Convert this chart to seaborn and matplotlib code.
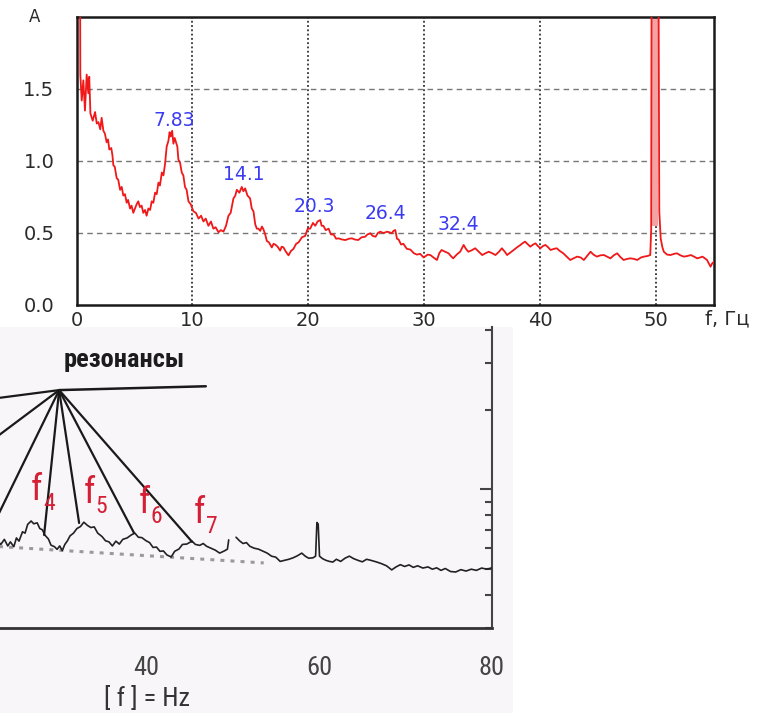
import matplotlib
matplotlib.use("Agg")
import matplotlib.pyplot as plt
import seaborn as sns
import numpy as np
from matplotlib.patches import Rectangle
from matplotlib.ticker import MultipleLocator, LogLocator, NullFormatter

# ---------------- top panel data (Schumann spectrum) ----------------
top_freq = [0.30, 0.33, 0.45, 0.59, 0.73, 0.88, 1.02, 1.10, 1.20, 1.40, 1.60, 1.75, 1.89, 2.05, 2.17,
            2.32, 2.45, 2.60, 2.72, 2.83, 3.00, 3.10, 3.18, 3.30, 3.47, 3.60, 3.76, 3.90, 4.04, 4.18,
            4.33, 4.45, 4.62, 4.75, 4.90, 5.05, 5.19, 5.33, 5.47, 5.62, 5.76, 5.91, 6.05, 6.20, 6.35,
            6.49, 6.63, 6.78, 6.92, 7.07, 7.20, 7.36, 7.50, 7.64, 7.78, 7.93, 8.03, 8.13, 8.25, 8.36,
            8.47, 8.59, 8.70, 8.79, 8.93, 9.08, 9.22, 9.36, 9.50, 9.66, 9.85, 10.09, 10.30, 10.53, 10.75,
            10.95, 11.15, 11.38, 11.60, 11.81, 12.00, 12.25, 12.45, 12.68, 12.90, 13.11, 13.30, 13.54, 13.70, 13.83,
            14.05, 14.26, 14.40, 14.55, 14.75, 14.98, 15.12, 15.27, 15.42, 15.56, 15.70, 15.85, 16.00, 16.13, 16.28,
            16.42, 16.60, 16.85, 17.00, 17.14, 17.35, 17.57, 17.70, 17.86, 18.05, 18.29, 18.50, 18.72, 18.95, 19.16,
            19.45, 19.73, 19.95, 20.16, 20.40, 20.60, 20.80, 21.03, 21.15, 21.30, 21.50, 21.75, 21.95, 22.18, 22.40,
            22.60, 22.90, 23.20, 23.50, 23.76, 24.00, 24.30, 24.60, 24.90, 25.10, 25.35, 25.55, 25.80, 26.00, 26.20,
            26.50, 26.79, 27.00, 27.20, 27.35, 27.50, 27.65, 27.79, 28.00, 28.20, 28.50, 28.80, 29.10, 29.36, 29.65,
            29.95, 30.30, 30.53, 30.80, 31.10, 31.30, 31.50, 31.80, 32.10, 32.30, 32.50, 32.80, 33.10, 33.40, 33.60,
            33.80, 34.10, 34.40, 34.70, 35.00, 35.30, 35.57, 35.85, 36.15, 36.45, 36.70, 36.95, 37.15, 37.45, 37.72,
            38.00, 38.30, 38.50, 38.70, 38.95, 39.15, 39.40, 39.60, 39.80, 40.02, 40.25, 40.46, 40.70, 40.90, 41.20,
            41.44, 41.70, 42.00, 42.30, 42.60, 42.90, 43.20, 43.50, 43.77, 44.05, 44.35, 44.60, 44.90, 45.20, 45.50,
            45.80, 46.07, 46.35, 46.65, 46.90, 47.20, 47.50, 47.80, 48.10, 48.38, 48.70, 48.96, 49.25, 49.50, 49.58,
            49.62, 50.20, 50.28, 50.40, 50.55, 50.67, 50.95, 51.25, 51.55, 51.80, 52.10, 52.40, 52.70, 53.00, 53.30,
            53.55, 53.80, 54.00, 54.20, 54.40, 54.55, 54.70, 54.85, 55.00]
top_amp = [2.60, 1.60, 1.42, 1.56, 1.35, 1.60, 1.47, 1.585, 1.33, 1.28, 1.34, 1.26, 1.27, 1.22, 1.30,
           1.21, 1.19, 1.13, 1.15, 1.08, 1.09, 1.04, 0.97, 0.96, 0.88, 0.87, 0.80, 0.82, 0.76, 0.77,
           0.71, 0.73, 0.67, 0.69, 0.64, 0.67, 0.70, 0.72, 0.68, 0.69, 0.64, 0.66, 0.62, 0.67, 0.66,
           0.72, 0.71, 0.78, 0.77, 0.85, 0.83, 0.92, 0.90, 0.98, 1.10, 1.14, 1.20, 1.17, 1.21, 1.12,
           1.16, 1.13, 1.10, 1.01, 0.99, 0.92, 0.90, 0.82, 0.80, 0.72, 0.70, 0.65, 0.64, 0.60, 0.62,
           0.58, 0.60, 0.55, 0.58, 0.53, 0.54, 0.505, 0.52, 0.51, 0.55, 0.62, 0.64, 0.74, 0.76, 0.80,
           0.78, 0.82, 0.79, 0.81, 0.76, 0.74, 0.67, 0.65, 0.56, 0.53, 0.53, 0.515, 0.545, 0.525, 0.49,
           0.445, 0.435, 0.40, 0.425, 0.42, 0.405, 0.378, 0.405, 0.40, 0.372, 0.345, 0.375, 0.39, 0.425, 0.435,
           0.47, 0.48, 0.53, 0.53, 0.57, 0.55, 0.58, 0.59, 0.55, 0.55, 0.52, 0.53, 0.49, 0.49, 0.46,
           0.463, 0.455, 0.451, 0.46, 0.463, 0.455, 0.451, 0.47, 0.474, 0.49, 0.498, 0.48, 0.474, 0.50, 0.509,
           0.50, 0.509, 0.505, 0.498, 0.515, 0.521, 0.46, 0.455, 0.42, 0.425, 0.39, 0.385, 0.36, 0.35, 0.355,
           0.33, 0.35, 0.347, 0.33, 0.3125, 0.36, 0.382, 0.37, 0.359, 0.34, 0.324, 0.35, 0.37, 0.417, 0.39,
           0.37, 0.38, 0.394, 0.37, 0.347, 0.36, 0.37, 0.36, 0.347, 0.37, 0.394, 0.37, 0.347, 0.365, 0.382,
           0.40, 0.417, 0.43, 0.44, 0.42, 0.405, 0.42, 0.428, 0.41, 0.394, 0.41, 0.417, 0.40, 0.382, 0.39,
           0.394, 0.375, 0.359, 0.335, 0.3125, 0.325, 0.336, 0.33, 0.3125, 0.34, 0.37, 0.35, 0.336, 0.345, 0.347,
           0.335, 0.324, 0.345, 0.359, 0.335, 0.3125, 0.32, 0.324, 0.32, 0.3125, 0.33, 0.336, 0.34, 0.347, 0.52,
           2.60, 2.60, 0.648, 0.463, 0.40, 0.37, 0.35, 0.347, 0.355, 0.359, 0.345, 0.336, 0.34, 0.347, 0.335,
           0.324, 0.33, 0.336, 0.325, 0.3125, 0.29, 0.266, 0.29, 0.30]

peak_freq = [8.42, 14.46, 20.51, 26.64, 32.94]
peak_amp = [1.278, 0.903, 0.681, 0.632, 0.5625]
peak_labels = ["7.83", "14.1", "20.3", "26.4", "32.4"]

top_xticks = [0, 10, 20, 30, 40, 50]
top_yticks = [0.0, 0.5, 1.0, 1.5]
top_ytick_labels = ["0.0", "0.5", "1.0", "1.5"]
top_vgrid = [10, 20, 30, 40, 50]
top_hgrid = [0.5, 1.0, 1.5]

# ---------------- bottom panel data (spectrum with resonances) ----------------
bot_freq = [22.8, 23.2, 23.6, 24.0, 24.3, 24.7, 25.0, 25.3, 25.7, 26.0, 26.3, 26.7, 27.0, 27.4, 27.7,
            28.0, 28.3, 28.7, 29.0, 29.4, 29.7, 30.0, 30.3, 30.6, 30.9, 31.2, 31.6, 32.0, 32.4, 32.8,
            33.2, 33.6, 34.0, 34.4, 34.9, 35.3, 35.7, 36.1, 36.5, 36.9, 37.3, 37.8, 38.3, 38.7, 39.1,
            39.5, 40.0, 40.4, 40.8, 41.2, 41.6, 42.0, 42.4, 42.9, 43.3, 43.8, 44.2, 44.7, 45.3, 45.7,
            46.2, 46.6, 47.0, 47.5, 48.0, 48.5, 49.0, 49.4, 49.55,
            50.4, 50.8, 51.2, 51.6, 52.0, 52.5, 53.0, 53.5, 54.0, 54.5, 55.0, 55.5, 56.0, 56.5, 57.0,
            57.5, 58.0, 58.4, 58.8, 59.3, 59.6, 59.75, 59.9, 60.05, 60.4, 60.8, 61.2, 61.6, 62.0, 62.5,
            63.0, 63.5, 64.0, 64.5, 65.0, 65.5, 66.0, 66.6, 67.2, 67.8, 68.4, 68.9, 69.4, 69.9, 70.4,
            70.9, 71.4, 72.0, 72.6, 73.1, 73.6, 74.1, 74.6, 75.2, 75.8, 76.4, 77.0, 77.6, 78.2, 78.8,
            79.4, 80.0]
bot_val = [0.640, 0.620, 0.648, 0.612, 0.634, 0.608, 0.656, 0.638, 0.692, 0.684, 0.738, 0.760, 0.742, 0.748, 0.712,
           0.704, 0.672, 0.650, 0.616, 0.608, 0.594, 0.612, 0.588, 0.620, 0.640, 0.668, 0.684, 0.712, 0.724, 0.752,
           0.732, 0.718, 0.722, 0.684, 0.664, 0.640, 0.634, 0.612, 0.638, 0.622, 0.648, 0.656, 0.674, 0.684, 0.660,
           0.658, 0.640, 0.630, 0.604, 0.606, 0.584, 0.586, 0.566, 0.556, 0.584, 0.596, 0.620, 0.622, 0.638, 0.620,
           0.615, 0.625, 0.610, 0.600, 0.590, 0.575, 0.585, 0.595, 0.645,
           0.660, 0.640, 0.625, 0.630, 0.610, 0.600, 0.595, 0.585, 0.575, 0.560, 0.555, 0.535, 0.540, 0.545, 0.552,
           0.562, 0.575, 0.560, 0.550, 0.552, 0.560, 0.750, 0.740, 0.560, 0.548, 0.540, 0.535, 0.532, 0.545, 0.535,
           0.550, 0.560, 0.548, 0.540, 0.533, 0.545, 0.540, 0.533, 0.525, 0.515, 0.497, 0.510, 0.520, 0.512, 0.519,
           0.508, 0.515, 0.505, 0.510, 0.500, 0.506, 0.495, 0.503, 0.490, 0.488, 0.498, 0.492, 0.500, 0.495, 0.505,
           0.500, 0.506]
gap_freq = 50.0   # the trace is broken at the mains line

baseline_freq = [22.5, 53.6]
baseline_val = [0.61, 0.528]

hub = (29.94, 2.37)
ray_end_freq = [16.07, 16.07, 21.85, 28.2, 32.25, 38.6, 45.32]
ray_end_val = [2.07, 1.086, 0.683, 0.673, 0.747, 0.685, 0.634]
title_line_end = (46.9, 2.45)

res_labels = ["4", "5", "6", "7"]
res_label_freq = [26.7, 32.83, 39.2, 45.55]
res_label_val = [0.913, 0.889, 0.815, 0.747]

bot_xticks = [40, 60, 80]

# ---------------- figure ----------------
sns.set_theme(style="white")
plt.rcParams['font.family'] = ['DejaVu Sans']
COND = ['Roboto Condensed', 'DejaVu Sans']

W, H = 757, 713
fig = plt.figure(figsize=(W / 100, H / 100), dpi=100)
fig.patch.set_facecolor('white')

fig.patches.append(Rectangle((0, 0), 513 / W, 386 / H, transform=fig.transFigure,
                             facecolor='#f8f6f9', edgecolor='none', zorder=-5))

# ---- top axes ----
ax1 = fig.add_axes([76.5 / W, 408 / H, (714 - 76.5) / W, 288 / H])
ax1.set_facecolor('white')
for v in top_vgrid:
    ax1.axvline(v, color='#111111', ls=(0, (1.2, 1.6)), lw=1.1, zorder=1)
for h in top_hgrid:
    ax1.axhline(h, color='#777777', ls=(0, (4, 3)), lw=1.0, zorder=1)

ta = np.array(top_amp)
tf = np.array(top_freq)
sidx = np.where(ta >= 2.0)[0]
if len(sidx) >= 2 and tf[sidx[-1]] > 10:
    i0, i1 = sidx[-2], sidx[-1]
    ax1.fill_between(tf[i0:i1 + 1], 0.55, ta[i0:i1 + 1], color='#f4a3a3', lw=0, zorder=2)

sns.lineplot(x=top_freq, y=top_amp, ax=ax1, color='#f01818', lw=1.3,
             estimator=None, sort=False, zorder=3)

ax1.set_xlim(0, 55)
ax1.set_ylim(0, 2)
ax1.set_xticks(top_xticks)
ax1.set_xticklabels([str(t) for t in top_xticks])
ax1.set_yticks(top_yticks)
ax1.set_yticklabels(top_ytick_labels)
ax1.tick_params(axis='both', length=0, labelsize=14, colors='#2a2a2a')
ax1.tick_params(axis='y', pad=16)
ax1.tick_params(axis='x', pad=4)
ax1.set_xlabel('')
ax1.set_ylabel('')
for s in ax1.spines.values():
    s.set_color('#1a1a1a')
    s.set_linewidth(1.8)
    s.set_visible(True)

for f, a, t in zip(peak_freq, peak_amp, peak_labels):
    ax1.text(f, a, t, color='#3b3bf2', fontsize=13.5, ha='center', va='center', zorder=4)

fig.text(35 / W, 1 - 17 / H, 'A', fontsize=12, color='#2a2a2a', ha='center', va='center')
fig.text(727 / W, 1 - 319 / H, 'f, Гц', fontsize=14, color='#2a2a2a', ha='center', va='center')

# ---- bottom axes ----
ax2 = fig.add_axes([0, 85 / H, 492 / W, 301 / H])
ax2.set_facecolor('none')
ax2.set_yscale('log')
ax2.set_xlim(23.1, 80)
ax2.set_ylim(0.3, 4.1)

sns.lineplot(x=baseline_freq, y=baseline_val, ax=ax2, color='#9a9a9a', lw=2.2,
             estimator=None, sort=False, zorder=2)
ax2.lines[-1].set_linestyle((0, (1.3, 2.0)))

bot_units = [0 if f < gap_freq else 1 for f in bot_freq]
sns.lineplot(x=bot_freq, y=bot_val, units=bot_units, ax=ax2, color='#222222', lw=1.2,
             estimator=None, sort=False, zorder=3)

for xe, ye in zip(ray_end_freq, ray_end_val):
    ax2.plot([hub[0], xe], [hub[1], ye], color='#1a1a1a', lw=1.6, zorder=4, solid_capstyle='round')
ax2.plot([hub[0], title_line_end[0]], [hub[1], title_line_end[1]], color='#1a1a1a', lw=1.8, zorder=4)

ax2.text(37.46, 3.08, 'резонансы', family=COND, fontstretch='condensed', fontsize=19,
         fontweight='semibold', color='#1c1c1c', ha='center', va='center')

for d, xf, yv in zip(res_labels, res_label_freq, res_label_val):
    ax2.text(xf, yv, 'f', family=COND, fontstretch='condensed', fontsize=26,
             color='#d41f35', ha='left', va='baseline', zorder=5)
    ax2.annotate(d, xy=(xf, yv), xytext=(8.4, -7.5), textcoords='offset points',
                 family=COND, fontstretch='condensed', fontsize=17,
                 color='#d41f35', ha='left', va='baseline', zorder=5)

ax2.spines['left'].set_visible(False)
ax2.spines['top'].set_visible(False)
ax2.spines['right'].set_color('#444444')
ax2.spines['right'].set_linewidth(1.5)
ax2.spines['bottom'].set_color('#333333')
ax2.spines['bottom'].set_linewidth(2.0)

ax2.yaxis.tick_right()
ax2.yaxis.set_major_locator(LogLocator(base=10))
ax2.yaxis.set_minor_locator(LogLocator(base=10, subs=np.arange(2, 10)))
ax2.yaxis.set_major_formatter(NullFormatter())
ax2.yaxis.set_minor_formatter(NullFormatter())
ax2.tick_params(axis='y', which='major', direction='in', length=9, width=1.5, colors='#444444',
                labelright=False, labelleft=False)
ax2.tick_params(axis='y', which='minor', direction='in', length=5, width=1.5, colors='#444444',
                labelright=False, labelleft=False)

ax2.set_xticks(bot_xticks)
ax2.set_xticklabels([str(t) for t in bot_xticks], family=COND, fontstretch='condensed',
                    fontsize=19, color='#444444')
ax2.xaxis.set_minor_locator(MultipleLocator(5))
ax2.tick_params(axis='x', which='major', direction='in', length=9.5, width=1.3, colors='#444444',
                pad=20, labelcolor='#444444')
ax2.tick_params(axis='x', which='minor', direction='in', length=4.5, width=1.3, colors='#444444')
ax2.set_xlabel('')
ax2.set_ylabel('')
ax2.grid(False)

fig.text(147 / W, 1 - 698 / H, '[ f ] = Hz', family=COND, fontstretch='condensed', fontsize=19,
         color='#333333', ha='center', va='center')

fig.savefig('out.png', dpi=100, facecolor='white')
